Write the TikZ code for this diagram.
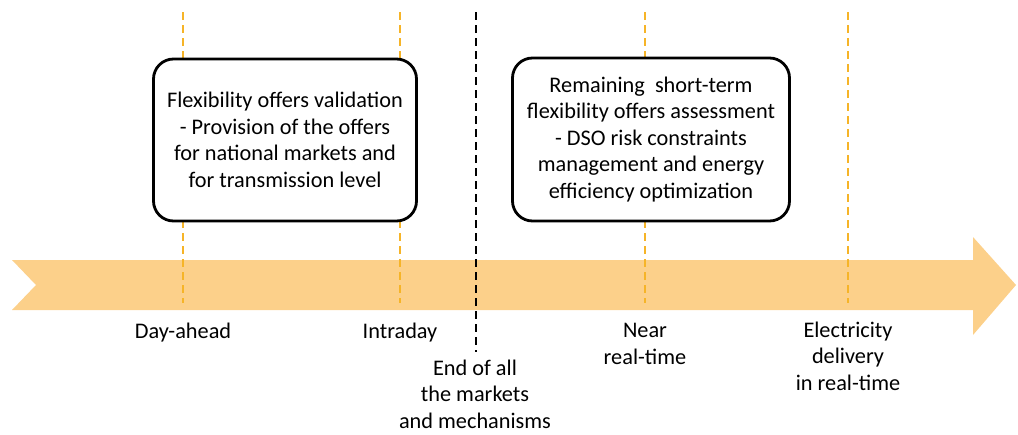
\documentclass[tikz,border=0pt]{standalone}
\usepackage{fontspec}
\setmainfont{Carlito}
\usepackage{tikz}
\usetikzlibrary{positioning}

\definecolor{bandfill}{RGB}{252,208,138}
\definecolor{tickorange}{RGB}{246,180,40}

\begin{document}
\begin{tikzpicture}[x=1pt,y=-1pt,thin,font=\fontsize{22.3}{26.5}\selectfont]

                \tikzset{phase/.style={draw, line width=2.8pt, rounded corners=20pt, fill=white, align=center, inner sep=0pt},
                         tick/.style={draw=tickorange, line width=2.8pt, dash pattern=on 8pt off 5pt},
                         endtick/.style={draw=black, line width=2.8pt, dash pattern=on 8pt off 5pt},
                         when/.style={align=center, anchor=base}}

                \useasboundingbox (0,0) rectangle (1018,434);

                % timeline
                \fill[bandfill] (12,260) -- (973,260) -- (973,237) -- (1016,285) -- (973,335) -- (973,310)
                    -- (12,310) -- (36,285) -- cycle;

                \coordinate (DAtop) at (183,12);
                \coordinate (DAbot) at (183,303);
                \coordinate (IDtop) at (400,12);
                \coordinate (IDbot) at (400,303);
                \coordinate (NRtop) at (645,12);
                \coordinate (NRbot) at (645,303);
                \coordinate (RTtop) at (848,12);
                \coordinate (RTbot) at (848,303);
                \coordinate (ENDtop) at (476,12);
                \coordinate (ENDbot) at (476,352);

                \draw[tick] (DAtop) -- (DAbot);
                \draw[tick] (IDtop) -- (IDbot);
                \draw[tick] (NRtop) -- (NRbot);
                \draw[tick] (RTtop) -- (RTbot);
                \draw[endtick] (ENDtop) -- (ENDbot);

                \node[phase, minimum width=263pt, minimum height=162pt] (validation) at (285,140)
                    {Flexibility offers validation\\- Provision of the offers\\for national markets and\\for transmission level};
                \node[phase, minimum width=277pt, minimum height=163pt] (assessment) at (651,139.5)
                    {Remaining\ \ short-term\\flexibility offers assessment\\- DSO risk constraints\\management and energy\\efficiency optimization};

                % last line on the base point
                \node[when] (dayahead) at (183,338) {Day-ahead};
                \node[when] (intraday) at (400,338) {Intraday};
                \node[when] (endall) at (475,428) {End of all\\the markets\\and mechanisms};
                \node[when] (nearrt) at (645,364) {Near\\real-time};
                \node[when] (delivery) at (848,390) {Electricity\\delivery\\in real-time};
            \end{tikzpicture}
\end{document}
